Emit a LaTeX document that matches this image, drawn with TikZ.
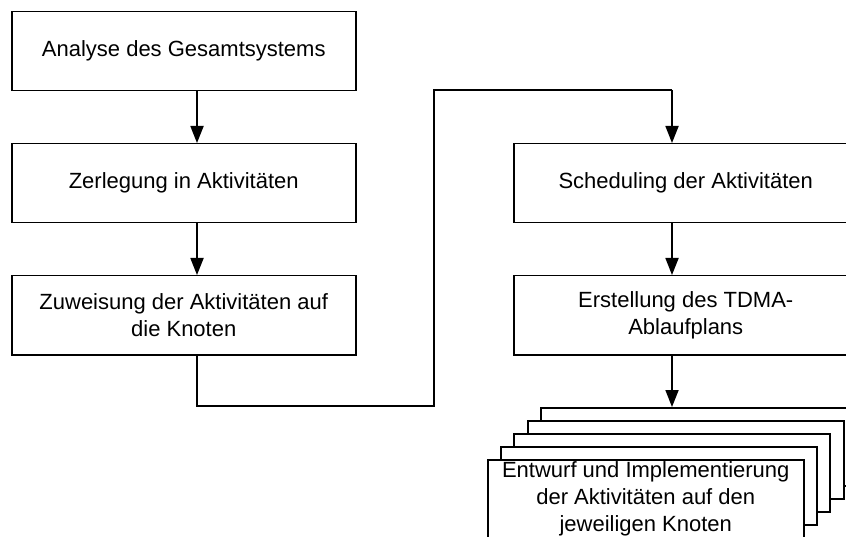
\documentclass[tikz,border=0pt]{standalone}
\usepackage{fontspec}
\setmainfont{Liberation Sans}
\usetikzlibrary{arrows.meta,calc}
\begin{document}
\begin{tikzpicture}[x=1pt,y=-1pt,
  box/.style={draw, line width=1.5pt, fill=white, anchor=north west,
    minimum width=344pt, minimum height=79pt, inner sep=0pt, align=center,
    font=\fontsize{22}{27}\selectfont},
  stackbox/.style={box, minimum width=316pt, minimum height=78pt},
  conn/.style={line width=1.8pt, -{Triangle[length=17pt,width=13pt]}},
  plain/.style={line width=1.8pt}]
\useasboundingbox (0,0) rectangle (846,537);
\clip (0,0) rectangle (846,537);
% left column
\node[box] (b1) at (11,11) {Analyse des Gesamtsystems};
\node[box] (b2) at (11,143) {Zerlegung in Aktivitäten};
\node[box] (b3) at (11,275) {Zuweisung der Aktivitäten auf\\die Knoten};
% right column
\node[box] (r1) at (513,143) {Scheduling der Aktivitäten};
\node[box] (r2) at (513,275) {Erstellung des TDMA-\\Ablaufplans};
% stack
\node[stackbox] (s5) at (540,407) {};
\node[stackbox] (s4) at (527,420) {};
\node[stackbox] (s3) at (513,433) {};
\node[stackbox] (s2) at (500,446) {};
\node[stackbox] (s1) at (487,459) {Entwurf und Implementierung\\der Aktivitäten auf den\\jeweiligen Knoten};
% helper coordinates
\coordinate (ax) at (197,0);
\coordinate (bx) at (672,0);
\coordinate (j1) at (197,406);
\coordinate (j2) at (434,406);
\coordinate (j3) at (434,90);
\coordinate (j4) at (672,90);
% connectors
\draw[conn] (b1.south -| ax) -- (b2.north -| ax);
\draw[conn] (b2.south -| ax) -- (b3.north -| ax);
\draw[plain] (b3.south -| ax) -- (j1) -- (j2) -- (j3) -- (j4);
\draw[conn] (j4) -- (r1.north -| bx);
\draw[conn] (r1.south -| bx) -- (r2.north -| bx);
\draw[conn] (r2.south -| bx) -- (s5.north -| bx);
\end{tikzpicture}
\end{document}
